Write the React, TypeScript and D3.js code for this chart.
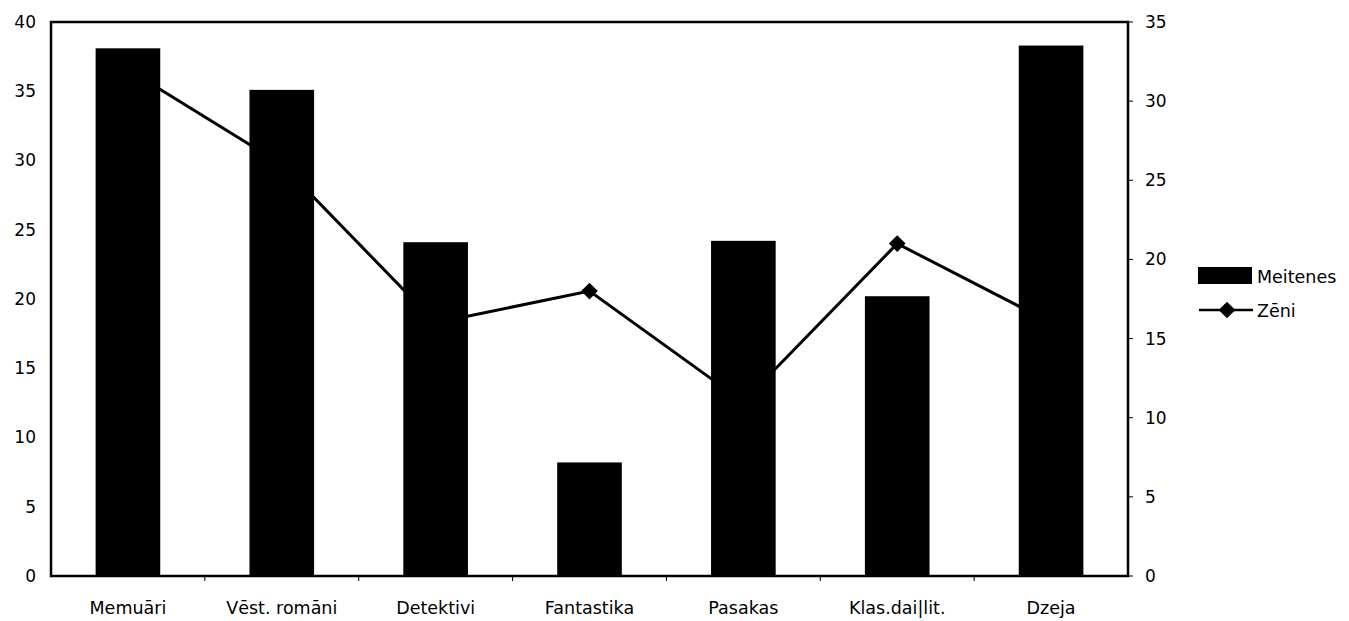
import * as d3 from "d3";

const categories = ["Memuāri", "Vēst. romāni", "Detektivi", "Fantastika", "Pasakas", "Klas.dai|lit.", "Dzeja"];
const meitenes = [38.1, 35.1, 24.1, 8.2, 24.2, 20.2, 38.3];
const zeni = [32, 26, 16, 18, 11, 21, 16];
const leftTicks = [0, 5, 10, 15, 20, 25, 30, 35, 40];
const rightTicks = [0, 5, 10, 15, 20, 25, 30, 35];

const width = 1349;
const height = 621;
const margin = { top: 22, right: 221, bottom: 45, left: 51 };

function App() {
  const boundsWidth = width - margin.left - margin.right;
  const boundsHeight = height - margin.top - margin.bottom;

  const xScale = d3.scaleBand<string>().domain(categories).range([0, boundsWidth]).padding(0);
  const yLeft = d3.scaleLinear().domain([0, 40]).range([boundsHeight, 0]);
  const yRight = d3.scaleLinear().domain([0, 35]).range([boundsHeight, 0]);

  const barWidth = xScale.bandwidth() * 0.42;
  const cx = (c: string) => (xScale(c) ?? 0) + xScale.bandwidth() / 2;

  const linePath = d3
    .line<number>()
    .x((_, i) => cx(categories[i]))
    .y((d) => yRight(d))(zeni);

  // square turned 45deg = the diamond marker
  const diamond = d3.symbol().type(d3.symbolSquare).size(140)();

  const font = "DejaVu Sans, Verdana, sans-serif";

  return (
    <svg width={width} height={height} style={{ position: "absolute", left: 0, top: 0, background: "#fff" }}>
      <g transform={`translate(${margin.left},${margin.top})`} fontFamily={font} fontSize={17}>
        {meitenes.map((v, i) => (
          <rect
            key={i}
            x={cx(categories[i]) - barWidth / 2}
            y={yLeft(v)}
            width={barWidth}
            height={boundsHeight - yLeft(v)}
            fill="#000"
          />
        ))}
        <path d={linePath ?? ""} fill="none" stroke="#000" strokeWidth={3} />
        {zeni.map((v, i) => (
          <path
            key={i}
            d={diamond ?? ""}
            transform={`translate(${cx(categories[i])},${yRight(v)}) rotate(45)`}
            fill="#000"
          />
        ))}
        {/* frame */}
        <rect x={0} y={0} width={boundsWidth} height={boundsHeight} fill="none" stroke="#000" strokeWidth={2.5} />
        {leftTicks.map((t) => (
          <text key={t} x={-15} y={yLeft(t)} dy="0.35em" textAnchor="end">
            {t}
          </text>
        ))}
        {rightTicks.map((t) => (
          <g key={t} transform={`translate(${boundsWidth},${yRight(t)})`}>
            <line x1={0} x2={5} stroke="#000" strokeWidth={1} />
            <text x={17} dy="0.35em" textAnchor="start">
              {t}
            </text>
          </g>
        ))}
        {categories.slice(1).map((c) => (
          <line key={c} x1={xScale(c)} x2={xScale(c)} y1={boundsHeight} y2={boundsHeight + 5} stroke="#000" strokeWidth={1} />
        ))}
        {categories.map((c) => (
          <text key={c} x={cx(c)} y={boundsHeight + 38} textAnchor="middle" fontSize={17.5}>
            {c}
          </text>
        ))}
      </g>
      {/* legend */}
      <g fontFamily={font} fontSize={17.5}>
        <rect x={1198} y={267} width={54} height={17} fill="#000" />
        <text x={1257} y={283}>Meitenes</text>
        <line x1={1199} x2={1253} y1={310} y2={310} stroke="#000" strokeWidth={2.5} />
        <path d={diamond ?? ""} transform="translate(1227,310) rotate(45)" fill="#000" />
        <text x={1257} y={317}>Zēni</text>
      </g>
    </svg>
  );
}

export default App;
